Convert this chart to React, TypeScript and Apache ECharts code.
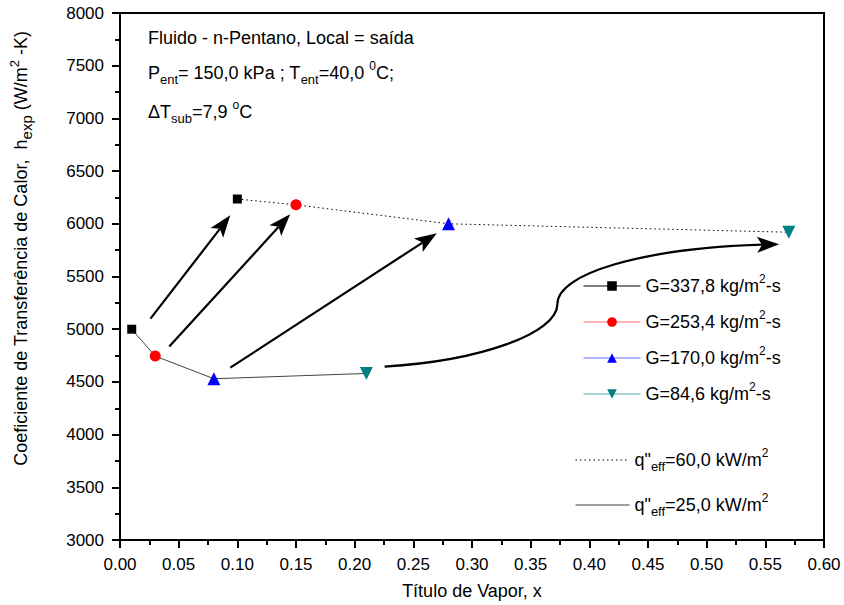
import React, { useEffect, useRef } from 'react';
import * as echarts from 'echarts';

// ---- data ----
const gLabels = ['337,8', '253,4', '170,0', '84,6'];
const gColors = ['#000000', '#ff0000', '#0000ff', '#008080'];
const gLegendLineColors = ['#000000', '#ff6b6b', '#6b6bff', '#5aa5a5'];
const gSymbols = ['rect', 'circle', 'triangle', 'triangle'];
const gSymbolRotate = [0, 0, 0, 180];
const gSymbolSizes = [9, 11, 13, 13];

// q" = 25 kW/m2 (solid) and q" = 60 kW/m2 (dotted)
const xLow = [0.01, 0.03, 0.08, 0.21];
const hLow = [5000, 4745, 4530, 4580];
const xHigh = [0.10, 0.15, 0.28, 0.57];
const hHigh = [6235, 6180, 6000, 5920];

const qLabels = ['60,0', '25,0'];

// arrows (data coordinates)
const arrowFrom = [
  [0.026, 5100],
  [0.042, 4835],
  [0.094, 4635],
];
const arrowTo = [
  [0.094, 6080],
  [0.145, 6090],
  [0.270, 5910],
];
// curved arrow: two cubic bezier segments [p0, c1, c2, p1, c3, c4, tip]
const curvePts = [
  [0.2255, 4645],
  [0.3072, 4700],
  [0.3728, 4960],
  [0.3728, 5240],
  [0.3728, 5524],
  [0.4434, 5765],
  [0.5617, 5807],
];

const FONT = 'Liberation Sans, Arial, Helvetica, sans-serif';

function arrowHead(tip: number[], from: number[]) {
  const L = 22, W = 8, notch = 5;
  const dx = tip[0] - from[0];
  const dy = tip[1] - from[1];
  const len = Math.sqrt(dx * dx + dy * dy) || 1;
  const ux = dx / len, uy = dy / len;
  const nx = -uy, ny = ux;
  const bx = tip[0] - ux * L, by = tip[1] - uy * L;
  const mx = tip[0] - ux * (L - notch), my = tip[1] - uy * (L - notch);
  return {
    points: [
      [tip[0], tip[1]],
      [bx + nx * W, by + ny * W],
      [mx, my],
      [bx - nx * W, by - ny * W],
    ],
    lineEnd: [mx, my],
  };
}

export default function App() {
  const ref = useRef<HTMLDivElement>(null);
  useEffect(() => {
    if (!ref.current) return;
    const chart = echarts.init(ref.current, null, { renderer: 'svg' });

    const richBase = {
      sup: { fontSize: 12, lineHeight: 12, verticalAlign: 'top', fontFamily: FONT, color: '#000' },
      sub: { fontSize: 13, lineHeight: 13, verticalAlign: 'bottom', fontFamily: FONT, color: '#000' },
    };
    const richName = {
      sup: { fontSize: 13, lineHeight: 12, verticalAlign: 'top', fontFamily: FONT, color: '#000' },
      sub: { fontSize: 15, lineHeight: 13, verticalAlign: 'bottom', fontFamily: FONT, color: '#000' },
    };

    const gSeries = gLabels.map((lab, i) => ({
      name: 'G=' + lab,
      type: 'line',
      data: [
        [xLow[i], hLow[i]],
        [xHigh[i], hHigh[i]],
      ],
      symbol: gSymbols[i],
      symbolSize: gSymbolSizes[i],
      symbolRotate: gSymbolRotate[i],
      itemStyle: { color: gColors[i] },
      lineStyle: { width: 0, color: gLegendLineColors[i] },
      z: 5,
    }));

    const qSeries = [
      {
        name: 'q' + qLabels[0],
        type: 'line',
        data: xHigh.map((x, i) => [x, hHigh[i]]),
        symbol: 'none',
        itemStyle: { color: '#000' },
        lineStyle: { color: '#000', width: 1, type: [1.5, 3] },
        z: 3,
      },
      {
        name: 'q' + qLabels[1],
        type: 'line',
        data: xLow.map((x, i) => [x, hLow[i]]),
        symbol: 'none',
        itemStyle: { color: '#444' },
        lineStyle: { color: '#444', width: 1 },
        z: 3,
      },
    ];

    const arrowSeries = {
      type: 'custom',
      silent: true,
      data: arrowFrom.map((f, i) => [f[0], f[1], arrowTo[i][0], arrowTo[i][1]]),
      encode: { x: 0, y: 1 },
      z: 4,
      renderItem: (params: any, api: any) => {
        const p0 = api.coord([api.value(0), api.value(1)]);
        const p1 = api.coord([api.value(2), api.value(3)]);
        const head = arrowHead(p1, p0);
        return {
          type: 'group',
          children: [
            {
              type: 'line',
              shape: { x1: p0[0], y1: p0[1], x2: head.lineEnd[0], y2: head.lineEnd[1] },
              style: { stroke: '#000', lineWidth: 2.2 },
            },
            { type: 'polygon', shape: { points: head.points }, style: { fill: '#000' } },
          ],
        };
      },
    };

    const curveSeries = {
      type: 'custom',
      silent: true,
      data: [curvePts[0]],
      encode: { x: 0, y: 1 },
      z: 4,
      renderItem: (params: any, api: any) => {
        const p = curvePts.map((c) => api.coord(c));
        const head = arrowHead(p[6], p[5]);
        return {
          type: 'group',
          children: [
            {
              type: 'bezierCurve',
              shape: {
                x1: p[0][0], y1: p[0][1],
                cpx1: p[1][0], cpy1: p[1][1],
                cpx2: p[2][0], cpy2: p[2][1],
                x2: p[3][0], y2: p[3][1],
              },
              style: { stroke: '#000', lineWidth: 2.2, fill: null },
            },
            {
              type: 'bezierCurve',
              shape: {
                x1: p[3][0], y1: p[3][1],
                cpx1: p[4][0], cpy1: p[4][1],
                cpx2: p[5][0], cpy2: p[5][1],
                x2: head.lineEnd[0], y2: head.lineEnd[1],
              },
              style: { stroke: '#000', lineWidth: 2.2, fill: null },
            },
            { type: 'polygon', shape: { points: head.points }, style: { fill: '#000' } },
          ],
        };
      },
    };

    const legendText = { color: '#000', fontSize: 18, fontFamily: FONT, lineHeight: 26, rich: richBase };

    const option: any = {
      animation: false,
      backgroundColor: '#fff',
      textStyle: { fontFamily: FONT },
      grid: {
        left: 119, top: 13, right: 20, bottom: 63,
        show: true, borderColor: '#000', borderWidth: 2, backgroundColor: 'transparent',
      },
      xAxis: {
        type: 'value',
        min: 0, max: 0.6, interval: 0.05,
        axisLine: { show: true, lineStyle: { color: '#000', width: 2 } },
        axisTick: { show: true, length: 8, lineStyle: { color: '#000', width: 2 } },
        minorTick: { show: true, splitNumber: 2, length: 5, lineStyle: { color: '#000', width: 2 } },
        splitLine: { show: false },
        axisLabel: {
          color: '#000', fontSize: 17, margin: 16, fontFamily: FONT,
          formatter: (v: number) => v.toFixed(2),
        },
        name: 'Título de Vapor, x',
        nameLocation: 'middle',
        nameGap: 42,
        nameTextStyle: { color: '#000', fontSize: 18, fontFamily: FONT },
      },
      yAxis: {
        type: 'value',
        min: 3000, max: 8000, interval: 500,
        axisLine: { show: true, lineStyle: { color: '#000', width: 2 } },
        axisTick: { show: true, length: 8, lineStyle: { color: '#000', width: 2 } },
        minorTick: { show: true, splitNumber: 2, length: 5, lineStyle: { color: '#000', width: 2 } },
        splitLine: { show: false },
        axisLabel: {
          color: '#000', fontSize: 17, margin: 16, fontFamily: FONT,
          formatter: (v: number) => String(v),
        },
        name: 'Coeficiente de Transferência de Calor,  h{sub|exp} (W/m{sup|2} -K)',
        nameLocation: 'middle',
        nameGap: 86,
        nameRotate: 90,
        nameTextStyle: {
          color: '#000', fontSize: 18, fontFamily: FONT, lineHeight: 26,
          padding: [0, 0, 0, 56],
          rich: richName,
        },
      },
      legend: [
        {
          orient: 'vertical',
          left: 583,
          top: 273,
          padding: 0,
          itemWidth: 57,
          itemHeight: 12,
          itemGap: 10,
          selectedMode: false,
          data: gLabels.map((lab, i) => ({
            name: 'G=' + lab,
            lineStyle: { width: 1, color: gLegendLineColors[i], opacity: 1 },
          })),
          formatter: (name: string) => name + ' kg/m{sup|2}-s',
          textStyle: legendText,
        },
        {
          orient: 'vertical',
          left: 575,
          top: 447,
          padding: 0,
          itemWidth: 54,
          itemHeight: 12,
          itemGap: 19,
          selectedMode: false,
          data: qSeries.map((s) => ({
            name: s.name,
            itemStyle: { opacity: 0 },
            lineStyle: { width: 1, opacity: 1 },
          })),
          formatter: (name: string) => 'q"{sub|eff}=' + name.slice(1) + ' kW/m{sup|2}',
          textStyle: legendText,
        },
      ],
      graphic: [
        {
          type: 'text',
          left: 148,
          top: 25,
          style: { text: 'Fluido - n-Pentano, Local = saída', font: '18px ' + FONT, fill: '#000', lineHeight: 26 },
        },
        {
          type: 'text',
          left: 148,
          top: 60,
          style: {
            text: 'P{sub|ent}= 150,0 kPa ; T{sub|ent}=40,0 {sup|0}C;',
            font: '18px ' + FONT, fill: '#000', lineHeight: 26, rich: richBase,
          },
        },
        {
          type: 'text',
          left: 148,
          top: 99,
          style: {
            text: 'ΔT{sub|sub}=7,9 {sup|o}C',
            font: '18px ' + FONT, fill: '#000', lineHeight: 26, rich: richBase,
          },
        },
      ],
      series: [...qSeries, arrowSeries, curveSeries, ...gSeries],
    };

    chart.setOption(option);
    return () => chart.dispose();
  }, []);

  return (
    <div
      ref={ref}
      style={{ position: 'fixed', left: 0, top: 0, width: 844, height: 605, background: '#fff' }}
    />
  );
}
